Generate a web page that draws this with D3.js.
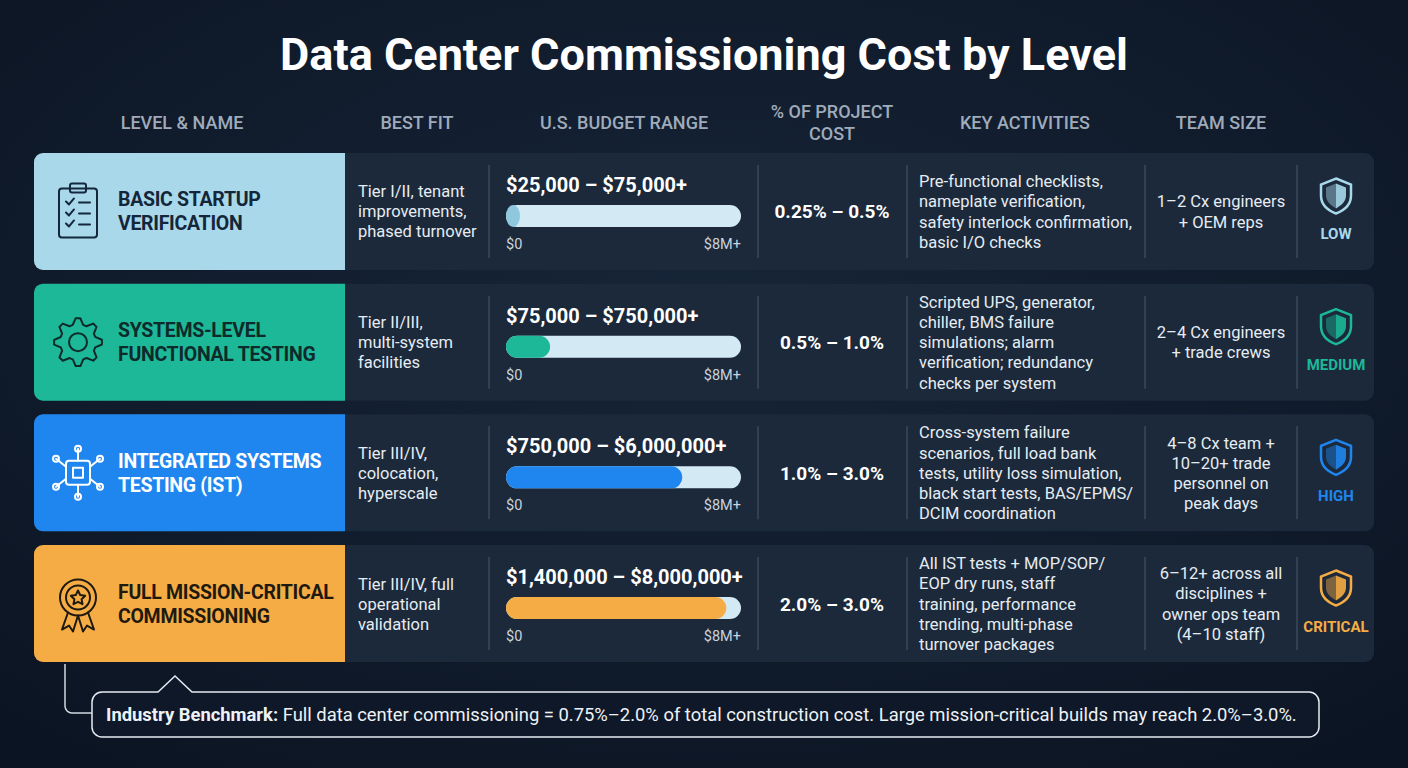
<!DOCTYPE html>
<html><head><meta charset="utf-8">
<script src="https://cdn.jsdelivr.net/npm/d3@7"></script>
<style>body{margin:0;background:#0e1828;font-family:Roboto,"Noto Sans",sans-serif}</style>
</head><body><div id="chart"></div>
<script>
// data
const levels = ["BASIC STARTUP|VERIFICATION", "SYSTEMS-LEVEL|FUNCTIONAL TESTING", "INTEGRATED SYSTEMS|TESTING (IST)", "FULL MISSION-CRITICAL|COMMISSIONING"];
const bestFit = ["Tier I/II, tenant|improvements,|phased turnover", "Tier II/III,|multi-system|facilities", "Tier III/IV,|colocation,|hyperscale", "Tier III/IV, full|operational|validation"];
const budgetLabels = ["$25,000 – $75,000+", "$75,000 – $750,000+", "$750,000 – $6,000,000+", "$1,400,000 – $8,000,000+"];
const barValues = [75000, 1500000, 6000000, 7500000];
const pctLabels = ["0.25% – 0.5%", "0.5% – 1.0%", "1.0% – 3.0%", "2.0% – 3.0%"];
const activities = [
  "Pre-functional checklists,|nameplate verification,|safety interlock confirmation,|basic I/O checks",
  "Scripted UPS, generator,|chiller, BMS failure|simulations; alarm|verification; redundancy|checks per system",
  "Cross-system failure|scenarios, full load bank|tests, utility loss simulation,|black start tests, BAS/EPMS/|DCIM coordination",
  "All IST tests + MOP/SOP/|EOP dry runs, staff|training, performance|trending, multi-phase|turnover packages"];
const teamSize = ["1–2 Cx engineers|+ OEM reps", "2–4 Cx engineers|+ trade crews", "4–8 Cx team +|10–20+ trade|personnel on|peak days", "6–12+ across all|disciplines +|owner ops team|(4–10 staff)"];
const risk = ["LOW", "MEDIUM", "HIGH", "CRITICAL"];
const headers = ["LEVEL & NAME", "BEST FIT", "U.S. BUDGET RANGE", "% OF PROJECT|COST", "KEY ACTIVITIES", "TEAM SIZE"];
const axisTicks = ["$0", "$8M+"];

const colors = ["#a9d8eb", "#1db898", "#1f86ef", "#f6ac45"];
const titleColors = ["#14263a", "#0e2a2a", "#ffffff", "#1e1a10"];

const W = 1408, H = 768;
const svg = d3.select("#chart").append("svg").attr("width", W).attr("height", H);
const defs = svg.append("defs");
const g = defs.append("radialGradient").attr("id", "bg").attr("cx", "50%").attr("cy", "40%").attr("r", "75%");
g.append("stop").attr("offset", "0%").attr("stop-color", "#172538");
g.append("stop").attr("offset", "100%").attr("stop-color", "#0b1422");
svg.append("rect").attr("width", W).attr("height", H).attr("fill", "url(#bg)");

svg.append("text").attr("x", W / 2).attr("y", 70).attr("text-anchor", "middle")
  .attr("fill", "#fff").attr("font-size", 45).attr("font-weight", 700).text("Data Center Commissioning Cost by Level");

function multi(sel, str, x, y, lh, anchor) {
  const lines = str.split("|");
  const t = sel.append("text").attr("text-anchor", anchor || "start");
  lines.forEach((l, i) => t.append("tspan").attr("x", x).attr("y", y + (i - (lines.length - 1) / 2) * lh).text(l));
  return t;
}

const headerX = [182, 417, 624, 832, 1025, 1221];
headers.forEach((h, i) => {
  multi(svg, h, headerX[i], 124, 22, "middle").attr("fill", "#9fabbb").attr("font-size", 18).attr("font-weight", 500)
    .attr("dominant-baseline", "middle");
});

const y = d3.scaleBand().domain(d3.range(4)).range([153, 662]).paddingInner(0.105);
const x = d3.scaleLinear().domain([0, 8000000]).range([506, 741]);
const divX = [489, 758, 907, 1145, 1297];

levels.forEach((lv, i) => {
  const top = y(i), h = y.bandwidth();
  const row = svg.append("g");
  row.append("rect").attr("x", 34).attr("y", top).attr("width", 1340).attr("height", h).attr("rx", 9).attr("fill", "#1b293b");
  row.append("path").attr("d", `M345,${top}H43a9,9 0 0 0 -9,9V${top + h - 9}a9,9 0 0 0 9,9H345Z`).attr("fill", colors[i]);
  divX.forEach(dx => row.append("line").attr("x1", dx).attr("x2", dx).attr("y1", top + 12).attr("y2", top + h - 12)
    .attr("stroke", "#3a4a5e").attr("stroke-width", 1.5));
  const cy = top + h / 2;
  multi(row, lv, 118, cy + 7, 24).attr("fill", titleColors[i]).attr("font-size", 19.5).attr("letter-spacing", -0.3).attr("font-weight", 700);
  // icon
  const ic = row.append("g").attr("transform", `translate(78,${cy})`).attr("fill", "none")
    .attr("stroke", titleColors[i]).attr("stroke-width", 2).attr("stroke-linecap", "round").attr("stroke-linejoin", "round");
  if (i === 0) {
    ic.append("rect").attr("x", -19).attr("y", -23).attr("width", 38).attr("height", 49).attr("rx", 3);
    ic.append("rect").attr("x", -8).attr("y", -28).attr("width", 16).attr("height", 9).attr("rx", 2);
    [-10, 1, 12].forEach(yy => { ic.append("path").attr("d", `M-12,${yy}l3,3l5,-6`); ic.append("line").attr("x1", 1).attr("x2", 12).attr("y1", yy + 1).attr("y2", yy + 1); });
  } else if (i === 1) {
    const n = 8, pts = [];
    for (let k = 0; k < n * 4; k++) { const a = k / (n * 4) * 2 * Math.PI; const r = (k % 4 < 2) ? 24 : 18; pts.push([r * Math.cos(a - 0.1), r * Math.sin(a - 0.1)]); }
    ic.append("path").attr("d", d3.line().curve(d3.curveLinearClosed)(pts));
    ic.append("circle").attr("r", 9);
  } else if (i === 2) {
    ic.append("rect").attr("x", -12).attr("y", -12).attr("width", 24).attr("height", 24).attr("rx", 3);
    ic.append("rect").attr("x", -5).attr("y", -5).attr("width", 10).attr("height", 10);
    [[-12, -6, -22, -14], [-12, 6, -22, 14], [12, -6, 22, -14], [12, 6, 22, 14], [0, -12, 0, -24], [0, 12, 0, 24]].forEach(p => {
      ic.append("line").attr("x1", p[0]).attr("y1", p[1]).attr("x2", p[2]).attr("y2", p[3]);
      ic.append("circle").attr("cx", p[2]).attr("cy", p[3]).attr("r", 3);
    });
  } else {
    ic.append("circle").attr("cy", -6).attr("r", 18);
    ic.append("circle").attr("cy", -6).attr("r", 12);
    ic.append("path").attr("d", "M0,-13l2.2,4.5 5,0.7 -3.6,3.5 0.9,5 -4.5,-2.4 -4.5,2.4 0.9,-5 -3.6,-3.5 5,-0.7z");
    ic.append("path").attr("d", "M-10,9L-16,26L-9,22L-5,28L0,12M10,9L16,26L9,22L5,28L0,12");
  }
  multi(row, bestFit[i], 358, cy + 6, 20).attr("fill", "#e6ecf2").attr("font-size", 16.5);
  row.append("text").attr("x", 506).attr("y", top + 39).attr("fill", "#fff").attr("font-size", 20).attr("font-weight", 700).text(budgetLabels[i]);
  row.append("rect").attr("x", x(0)).attr("y", top + 52).attr("width", x(8000000) - x(0)).attr("height", 22).attr("rx", 11).attr("fill", "#d3eaf4");
  row.append("rect").attr("x", x(0)).attr("y", top + 52).attr("width", Math.max(x(barValues[i]) - x(0), 14)).attr("height", 22).attr("rx", 11)
    .attr("fill", i === 0 ? "#8fc7de" : colors[i]);
  row.append("text").attr("x", x(0)).attr("y", top + 96).attr("fill", "#c9d3de").attr("font-size", 14.5).text(axisTicks[0]);
  row.append("text").attr("x", x(8000000)).attr("y", top + 96).attr("text-anchor", "end").attr("fill", "#c9d3de").attr("font-size", 14.5).text(axisTicks[1]);
  row.append("text").attr("x", 832).attr("y", cy + 7).attr("text-anchor", "middle").attr("fill", "#fff").attr("font-size", 19).attr("font-weight", 700).text(pctLabels[i]);
  multi(row, activities[i], 919, cy + 6, 20.2).attr("fill", "#e6ecf2").attr("font-size", 16.5);
  multi(row, teamSize[i], 1221, cy + 6, 20.2, "middle").attr("fill", "#e6ecf2").attr("font-size", 16.5);
  // shield
  const sh = row.append("g").attr("transform", `translate(1336,${cy - 16})`);
  const shp = "M0,-17L15,-11V0C15,9 8,15 0,18C-8,15 -15,9 -15,0V-11Z";
  sh.append("path").attr("d", shp).attr("fill", "#1b293b").attr("stroke", colors[i]).attr("stroke-width", 2.5);
  sh.append("path").attr("d", "M0,-12L10,-8V0C10,6 5,10 0,13Z").attr("fill", colors[i]).attr("opacity", 0.9);
  sh.append("path").attr("d", "M0,-12L-10,-8V0C-10,6 -5,10 0,13Z").attr("fill", colors[i]).attr("opacity", 0.45);
  row.append("text").attr("x", 1336).attr("y", cy + 28).attr("text-anchor", "middle").attr("fill", colors[i]).attr("font-size", 15).attr("font-weight", 700).text(risk[i]);
});

// benchmark note
svg.append("path").attr("d", "M65,664V706a7,7 0 0 0 7,7H92").attr("fill", "none").attr("stroke", "#d0d8e0").attr("stroke-width", 1.5);
svg.append("path").attr("d", "M102,692H158L175,676L192,692H1309a10,10 0 0 1 10,10V727a10,10 0 0 1 -10,10H102a10,10 0 0 1 -10,-10V702a10,10 0 0 1 10,-10Z")
  .attr("fill", "#0e1828").attr("stroke", "#e6ecf2").attr("stroke-width", 1.5);
const note = svg.append("text").attr("x", 106).attr("y", 721).attr("fill", "#eef2f6").attr("font-size", 18.4);
note.append("tspan").attr("font-weight", 700).text("Industry Benchmark:");
note.append("tspan").text(" Full data center commissioning = 0.75%–2.0% of total construction cost. Large mission-critical builds may reach 2.0%–3.0%.");
</script></body></html>
